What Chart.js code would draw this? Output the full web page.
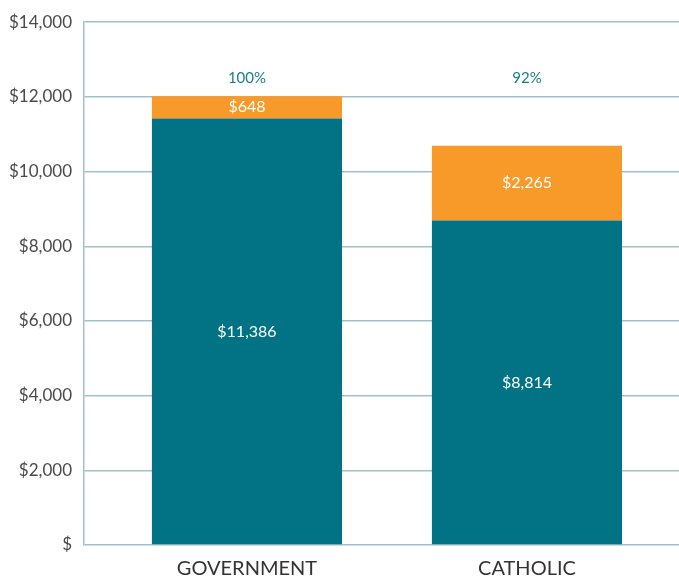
<!DOCTYPE html>
<html>
<head>
<meta charset="utf-8">
<script src="https://cdn.jsdelivr.net/npm/chart.js@4.4.1/dist/chart.umd.min.js"></script>
<style>
  html, body { margin: 0; padding: 0; background: #fff; }
  #wrap { width: 679px; height: 578px; position: relative; }
</style>
</head>
<body>
<div id="wrap"><canvas id="chart"></canvas></div>
<script>
// values
const categories = ['GOVERNMENT', 'CATHOLIC'];
const baseFunding = [11420, 8690];     // teal segment heights as drawn
const extraFunding = [600, 2000];      // orange segment heights as drawn
const baseLabels = [11386, 8814];      // printed in the teal segments
const extraLabels = [648, 2265];       // printed in the orange segments
const shareLabels = ['100%', '92%'];   // printed above the bars
const yTicks = [0, 2000, 4000, 6000, 8000, 10000, 12000, 14000];

const TEAL = '#017384';
const ORANGE = '#F79A29';
const GRID = '#9fbfcc';
const FONT = 'Lato, "Open Sans", sans-serif';

const money = v => v === 0 ? '$' : '$' + v.toLocaleString('en-US');

// white values inside the bars, percentages above them
const barText = {
  id: 'barText',
  afterDatasetsDraw(chart) {
    const ctx = chart.ctx;
    const texts = [baseLabels, extraLabels];
    ctx.save();
    ctx.textAlign = 'center';
    ctx.textBaseline = 'middle';
    ctx.font = '16px ' + FONT;
    ctx.fillStyle = '#ffffff';
    chart.data.datasets.forEach((ds, di) => {
      chart.getDatasetMeta(di).data.forEach((bar, i) => {
        ctx.fillText(money(texts[di][i]), bar.x, (bar.y + bar.base) / 2);
      });
    });
    ctx.font = '15px ' + FONT;
    ctx.fillStyle = '#1b7d8c';
    const yPct = chart.scales.y.getPixelForValue(12500);
    chart.getDatasetMeta(0).data.forEach((bar, i) => {
      ctx.fillText(shareLabels[i], bar.x, yPct);
    });
    ctx.restore();
  }
};

new Chart(document.getElementById('chart'), {
  type: 'bar',
  data: {
    datasets: [
      {
        label: 'Base',
        data: categories.map((c, i) => ({ x: i + 1, y: baseFunding[i] })),
        backgroundColor: TEAL,
        categoryPercentage: 1,
        barPercentage: 0.679
      },
      {
        label: 'Extra',
        data: categories.map((c, i) => ({ x: i + 1, y: extraFunding[i] })),
        backgroundColor: ORANGE,
        categoryPercentage: 1,
        barPercentage: 0.679
      }
    ]
  },
  options: {
    responsive: true,
    maintainAspectRatio: false,
    animation: false,
    layout: { padding: { top: 19, right: 0, left: 0, bottom: 0 } },
    plugins: {
      legend: { display: false },
      tooltip: { enabled: false }
    },
    scales: {
      x: {
        type: 'linear',
        stacked: true,
        offset: false,
        bounds: 'data',
        min: 0.418,
        max: 2.543,
        afterBuildTicks: scale => {
          scale.ticks = categories.map((c, i) => ({ value: i + 1 }));
        },
        afterFit: scale => { scale.height = 33; },
        grid: { display: false, drawTicks: false, offset: false },
        border: { display: false },
        ticks: {
          autoSkip: false,
          maxRotation: 0,
          padding: 12,
          color: '#333',
          font: { family: FONT, size: 20 },
          callback: v => categories[v - 1] || ''
        }
      },
      y: {
        stacked: true,
        min: 0,
        max: 14000,
        afterBuildTicks: scale => {
          scale.ticks = yTicks.map(v => ({ value: v }));
        },
        afterFit: scale => { scale.width = 84; },
        grid: { color: GRID, lineWidth: 1.5, drawTicks: false },
        border: { display: true, color: GRID, width: 1.5 },
        ticks: {
          padding: 12,
          color: '#4a4a4a',
          font: { family: FONT, size: 17 },
          callback: v => money(v)
        }
      }
    }
  },
  plugins: [barText]
});
</script>
</body>
</html>
